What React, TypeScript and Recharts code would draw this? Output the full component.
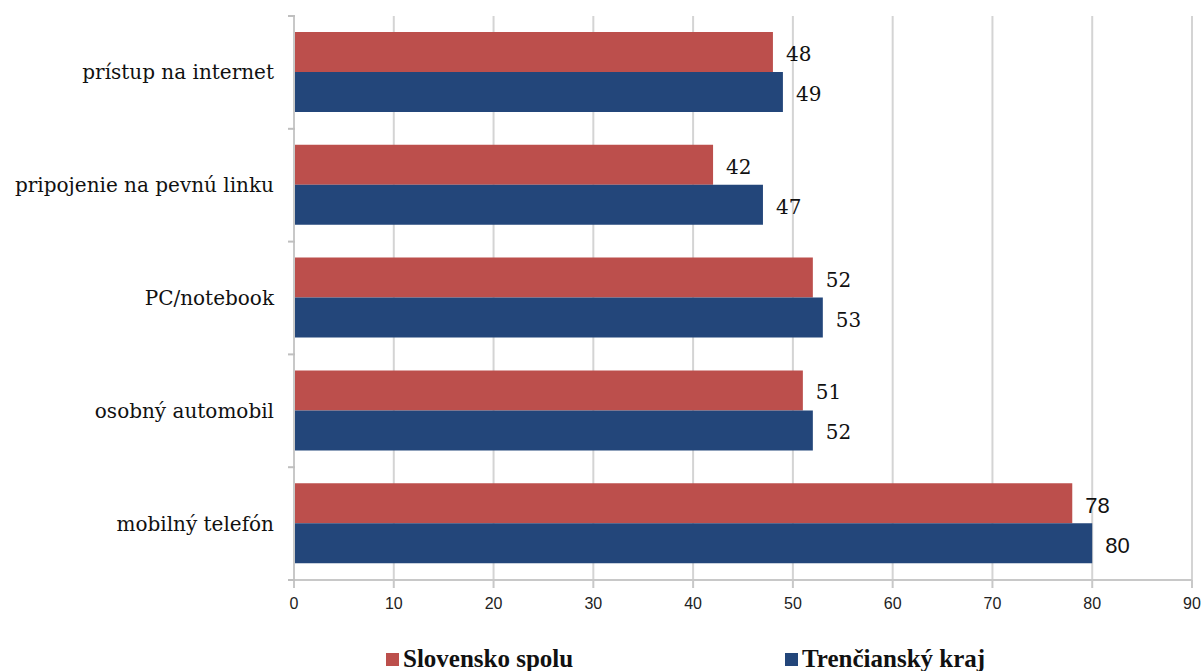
import React from "react";
import { BarChart, Bar, XAxis, YAxis, CartesianGrid, LabelList } from "recharts";

const categories = ["prístup na internet", "pripojenie na pevnú linku", "PC/notebook", "osobný automobil", "mobilný telefón"];
const slovensko = [48, 42, 52, 51, 78];
const trenciansky = [49, 47, 53, 52, 80];
const xTicks = [0, 10, 20, 30, 40, 50, 60, 70, 80, 90];

const data = categories.map((name, i) => ({ name, slovensko: slovensko[i], trenciansky: trenciansky[i] }));

const SERIF = "'DejaVu Serif', serif";
const SANS = "'Liberation Sans', Arial, sans-serif";
const RED = "#bc4f4c";
const BLUE = "#23467a";
const BAND = (580 - 16) / categories.length;

const CategoryTick = (props: any) => {
  const { x, y, payload, index } = props;
  const last = index === categories.length - 1;
  return (
    <g>
      <line x1={x + 2} x2={x + 9} y1={y - BAND / 2} y2={y - BAND / 2} stroke="#bfbfbf" strokeWidth={2} />
      {last && <line x1={x + 2} x2={x + 9} y1={y + BAND / 2} y2={y + BAND / 2} stroke="#bfbfbf" strokeWidth={2} />}
      <text x={x - 12} y={y} textAnchor="end" dominantBaseline="central" fontFamily={SERIF} fontSize={20} fill="#111">
        {payload.value}
      </text>
    </g>
  );
};

const ValueLabel = (props: any) => {
  const { x, y, width, height, value, index } = props;
  const sans = index === categories.length - 1;
  return (
    <text
      x={x + width + 13}
      y={y + height / 2 + 2}
      dominantBaseline="central"
      fontFamily={sans ? SANS : SERIF}
      fontSize={sans ? 22 : 20}
      fill="#111"
    >
      {value}
    </text>
  );
};

const legendItem: React.CSSProperties = { position: "absolute", top: 645, display: "flex", alignItems: "center" };

export default function App() {
  return (
    <div style={{ position: "absolute", left: 0, top: 0, width: 1203, height: 671, background: "#fff" }}>
      <BarChart
        width={1203}
        height={671}
        data={data}
        layout="vertical"
        margin={{ top: 16, right: 11, bottom: 61, left: 0 }}
        barSize={40}
        barGap={0}
      >
        <CartesianGrid horizontal={false} stroke="#d4d4d4" strokeWidth={2} />
        <XAxis
          type="number"
          domain={[0, 90]}
          ticks={xTicks}
          interval={0}
          stroke="#c8c8c8"
          strokeWidth={2}
          tickSize={8}
          tick={{ fill: "#222", fontSize: 16, fontFamily: SANS, dy: 8 }}
          allowDataOverflow
        />
        <YAxis
          type="category"
          dataKey="name"
          width={294}
          stroke="#c8c8c8"
          strokeWidth={2}
          tickLine={false}
          tick={<CategoryTick />}
        />
        <Bar dataKey="slovensko" name="Slovensko spolu" fill={RED} isAnimationActive={false}>
          <LabelList dataKey="slovensko" content={<ValueLabel />} />
        </Bar>
        <Bar dataKey="trenciansky" name="Trenčianský kraj" fill={BLUE} isAnimationActive={false}>
          <LabelList dataKey="trenciansky" content={<ValueLabel />} />
        </Bar>
      </BarChart>
      <div style={{ fontFamily: "'Liberation Serif', serif", fontWeight: "bold", fontSize: 25, color: "#111" }}>
        <div style={{ ...legendItem, left: 386 }}>
          <span style={{ width: 13, height: 13, background: RED, display: "inline-block", marginRight: 4 }} />
          Slovensko spolu
        </div>
        <div style={{ ...legendItem, left: 785 }}>
          <span style={{ width: 13, height: 13, background: BLUE, display: "inline-block", marginRight: 4 }} />
          Trenčianský kraj
        </div>
      </div>
    </div>
  );
}
